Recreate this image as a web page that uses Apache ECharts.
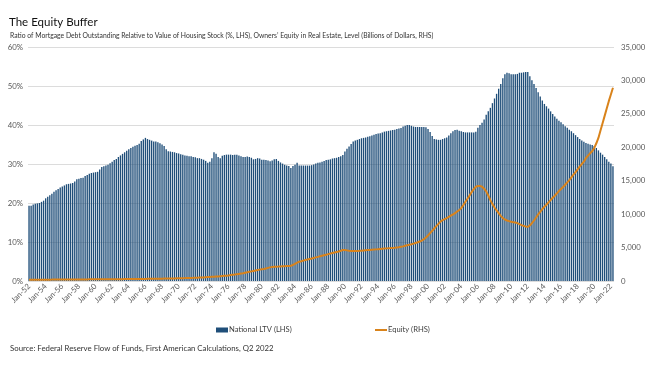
<!DOCTYPE html>
<html>
<head>
<meta charset="utf-8">
<script src="https://cdn.jsdelivr.net/npm/echarts@6/dist/echarts.min.js"></script>
<style>
html,body{margin:0;padding:0;background:#fff;}
#chart{width:660px;height:366px;}
</style>
</head>
<body>
<div id="chart"></div>
<script>
// Quarterly data, 1952 Q1 .. 2022 Q2
var startYear = 1952;
var quarterMonths = ['Jan', 'Apr', 'Jul', 'Oct'];

// National LTV (%), one row per year (Q1..Q4)
var ltv = [
  19.3, 19.3, 19.6, 19.8,  // 1952
  19.9, 20.0, 20.3, 20.6,  // 1953
  21.2, 21.6, 22.0, 22.4,  // 1954
  22.9, 23.3, 23.6, 24.0,  // 1955
  24.2, 24.5, 24.8, 24.9,  // 1956
  25.0, 25.1, 25.5, 26.1,  // 1957
  26.2, 26.4, 26.5, 26.9,  // 1958
  27.2, 27.5, 27.7, 27.8,  // 1959
  27.9, 28.0, 28.6, 29.2,  // 1960
  29.4, 29.6, 29.8, 30.2,  // 1961
  30.6, 31.0, 31.3, 31.8,  // 1962
  32.2, 32.6, 33.0, 33.4,  // 1963
  33.8, 34.1, 34.4, 34.7,  // 1964
  34.9, 35.2, 35.9, 36.3,  // 1965
  36.7, 36.4, 36.2, 36.0,  // 1966
  35.8, 35.8, 35.6, 35.3,  // 1967
  35.0, 34.6, 33.8, 33.3,  // 1968
  33.2, 33.1, 33.0, 32.8,  // 1969
  32.7, 32.5, 32.4, 32.2,  // 1970
  32.1, 32.0, 32.0, 31.8,  // 1971
  31.7, 31.5, 31.5, 31.3,  // 1972
  31.1, 30.8, 30.3, 30.6,  // 1973
  31.5, 33.0, 32.6, 31.8,  // 1974
  31.5, 32.1, 32.3, 32.4,  // 1975
  32.4, 32.4, 32.3, 32.4,  // 1976
  32.4, 32.2, 32.0, 31.8,  // 1977
  31.8, 31.9, 31.8, 31.6,  // 1978
  31.2, 31.3, 31.5, 31.4,  // 1979
  31.1, 31.1, 31.0, 30.9,  // 1980
  30.7, 30.9, 31.2, 31.3,  // 1981
  30.8, 30.4, 30.1, 29.8,  // 1982
  29.6, 29.5, 29.0, 29.5,  // 1983
  29.8, 30.3, 29.6, 29.6,  // 1984
  29.6, 29.6, 29.6, 29.6,  // 1985
  29.7, 29.9, 30.1, 30.3,  // 1986
  30.4, 30.6, 30.8, 31.0,  // 1987
  31.1, 31.2, 31.4, 31.5,  // 1988
  31.6, 31.8, 32.0, 32.3,  // 1989
  33.2, 33.9, 34.5, 35.1,  // 1990
  35.8, 36.0, 36.2, 36.4,  // 1991
  36.6, 36.7, 36.8, 37.0,  // 1992
  37.1, 37.3, 37.5, 37.7,  // 1993
  37.8, 37.9, 38.1, 38.3,  // 1994
  38.4, 38.5, 38.6, 38.7,  // 1995
  38.8, 39.0, 39.1, 39.2,  // 1996
  39.6, 39.8, 40.0, 40.0,  // 1997
  39.8, 39.6, 39.5, 39.5,  // 1998
  39.5, 39.5, 39.5, 39.4,  // 1999
  39.0, 38.2, 37.2, 36.4,  // 2000
  36.3, 36.2, 36.2, 36.4,  // 2001
  36.6, 36.8, 37.3, 37.9,  // 2002
  38.4, 38.7, 38.8, 38.5,  // 2003
  38.4, 38.2, 38.1, 38.1,  // 2004
  38.1, 38.1, 38.1, 38.3,  // 2005
  39.3, 40.0, 40.6, 41.4,  // 2006
  42.6, 43.5, 44.4, 45.6,  // 2007
  46.8, 48.0, 49.3, 50.5,  // 2008
  52.0, 53.0, 53.4, 53.3,  // 2009
  53.0, 53.0, 53.0, 53.1,  // 2010
  53.4, 53.4, 53.5, 53.6,  // 2011
  53.6, 52.5, 51.5, 50.5,  // 2012
  49.5, 48.4, 47.3, 46.3,  // 2013
  45.4, 44.8, 44.2, 43.5,  // 2014
  42.8, 42.2, 41.6, 41.1,  // 2015
  40.7, 40.2, 39.7, 39.3,  // 2016
  38.8, 38.4, 37.9, 37.4,  // 2017
  36.9, 36.4, 36.0, 35.7,  // 2018
  35.4, 35.2, 35.0, 34.9,  // 2019
  34.6, 34.1, 33.5, 32.9,  // 2020
  32.4, 31.8, 31.2, 30.6,  // 2021
  30.1, 29.4               // 2022
];

// Owners' equity in real estate (billions of dollars)
var equity = [
  180, 182, 185, 188,        // 1952
  190, 192, 195, 197,        // 1953
  200, 202, 205, 207,        // 1954
  210, 212, 214, 216,        // 1955
  218, 220, 222, 224,        // 1956
  226, 228, 230, 232,        // 1957
  234, 236, 238, 240,        // 1958
  242, 244, 246, 248,        // 1959
  250, 252, 254, 256,        // 1960
  258, 260, 262, 264,        // 1961
  266, 268, 270, 272,        // 1962
  275, 278, 281, 284,        // 1963
  287, 290, 293, 296,        // 1964
  300, 304, 308, 312,        // 1965
  316, 320, 324, 328,        // 1966
  333, 338, 343, 348,        // 1967
  354, 360, 366, 372,        // 1968
  378, 385, 392, 400,        // 1969
  408, 416, 424, 432,        // 1970
  442, 452, 462, 472,        // 1971
  484, 496, 508, 520,        // 1972
  540, 560, 580, 600,        // 1973
  620, 640, 660, 680,        // 1974
  710, 740, 770, 800,        // 1975
  840, 880, 920, 960,        // 1976
  1010, 1060, 1110, 1160,    // 1977
  1230, 1300, 1370, 1440,    // 1978
  1510, 1580, 1650, 1700,    // 1979
  1750, 1800, 1880, 1960,    // 1980
  2040, 2110, 2140, 2150,    // 1981
  2160, 2180, 2200, 2220,    // 1982
  2240, 2260, 2290, 2400,    // 1983
  2560, 2750, 2890, 2960,    // 1984
  3050, 3140, 3230, 3300,    // 1985
  3370, 3450, 3530, 3610,    // 1986
  3690, 3780, 3860, 3940,    // 1987
  4020, 4100, 4180, 4260,    // 1988
  4340, 4420, 4520, 4640,    // 1989
  4640, 4580, 4520, 4490,    // 1990
  4480, 4490, 4490, 4510,    // 1991
  4540, 4570, 4600, 4620,    // 1992
  4640, 4670, 4700, 4730,    // 1993
  4760, 4790, 4820, 4850,    // 1994
  4880, 4900, 4920, 4950,    // 1995
  4980, 5020, 5060, 5120,    // 1996
  5180, 5260, 5340, 5420,    // 1997
  5500, 5590, 5690, 5790,    // 1998
  5900, 6050, 6250, 6500,    // 1999
  6800, 7150, 7500, 7850,    // 2000
  8200, 8550, 8880, 9100,    // 2001
  9250, 9400, 9600, 9800,    // 2002
  9950, 10150, 10400, 10600, // 2003
  10900, 11350, 11850, 12300,// 2004
  12800, 13300, 13750, 14100,// 2005
  14200, 14220, 14100, 13800,// 2006
  13400, 12800, 12100, 11500,// 2007
  11000, 10550, 10150, 9750, // 2008
  9400, 9200, 9050, 8950,    // 2009
  8850, 8800, 8750, 8650,    // 2010
  8500, 8350, 8250, 8150,    // 2011
  8100, 8300, 8650, 9050,    // 2012
  9500, 9950, 10350, 10750,  // 2013
  11100, 11400, 11750, 12100,// 2014
  12450, 12750, 13100, 13450,// 2015
  13750, 14050, 14400, 14750,// 2016
  15100, 15500, 15900, 16300,// 2017
  16700, 17100, 17500, 17850,// 2018
  18400, 18750, 19100, 19400,// 2019
  19900, 20600, 21400, 22500,// 2020
  23600, 24700, 25800, 26900,// 2021
  27900, 28900               // 2022
];

// Left axis ticks (%), right axis ticks (billions)
var leftTicks = [0, 10, 20, 30, 40, 50, 60];
var rightTicks = [0, 5000, 10000, 15000, 20000, 25000, 30000, 35000];

var categories = [];
for (var i = 0; i < ltv.length; i++) {
  var yr = startYear + Math.floor(i / 4);
  categories.push(quarterMonths[i % 4] + '-' + String(yr % 100).padStart(2, '0'));
}

var FONT = 'Lato, "Open Sans", sans-serif';
var chart = echarts.init(document.getElementById('chart'), null, {renderer: 'canvas'});
chart.setOption({
  animation: false,
  backgroundColor: '#ffffff',
  textStyle: {fontFamily: FONT},
  title: [
    {text: 'The Equity Buffer', left: 9, top: 16, padding: 0,
     textStyle: {fontSize: 11.5, fontWeight: 'normal', color: '#111111', fontFamily: FONT}},
    {text: 'Ratio of Mortgage Debt Outstanding Relative to Value of Housing Stock (%, LHS), Owners\u2019 Equity in Real Estate, Level (Billions of Dollars, RHS)',
     left: 10, top: 32, padding: 0,
     textStyle: {fontSize: 6.8, fontWeight: 'normal', color: '#333333', fontFamily: FONT}},
    {text: 'Source: Federal Reserve Flow of Funds, First American Calculations, Q2 2022',
     left: 10, top: 344, padding: 0,
     textStyle: {fontSize: 7.8, fontWeight: 'normal', color: '#333333', fontFamily: FONT}}
  ],
  legend: [
    {data: [{name: 'National LTV (LHS)', icon: 'rect'}], left: 216, top: 326, padding: 0,
     itemWidth: 12, itemHeight: 5, itemGap: 0,
     textStyle: {fontSize: 7.6, color: '#404040', fontFamily: FONT, padding: [0, 0, 0, -4]}},
    {data: [{name: 'Equity (RHS)', icon: 'rect'}], left: 375, top: 326, padding: 0,
     itemWidth: 12, itemHeight: 2, itemGap: 0,
     textStyle: {fontSize: 7.6, color: '#404040', fontFamily: FONT, padding: [0, 0, 0, -4]}}
  ],
  grid: {left: 28, right: 46, top: 47, bottom: 85, containLabel: false},
  xAxis: {
    type: 'category',
    data: categories,
    boundaryGap: true,
    axisLine: {show: false},
    axisTick: {show: false},
    axisLabel: {
      interval: 7, rotate: 45, fontSize: 7.8, color: '#595959', margin: 4, fontFamily: FONT
    }
  },
  yAxis: [
    {
      type: 'value', min: leftTicks[0], max: leftTicks[leftTicks.length - 1], interval: 10,
      axisLine: {show: false}, axisTick: {show: false},
      splitLine: {lineStyle: {color: '#dcdcdc', width: 1}},
      axisLabel: {formatter: '{value}%', fontSize: 7.8, color: '#595959', margin: 5, fontFamily: FONT}
    },
    {
      type: 'value', min: rightTicks[0], max: rightTicks[rightTicks.length - 1], interval: 5000,
      axisLine: {show: false}, axisTick: {show: false}, splitLine: {show: false},
      axisLabel: {
        formatter: function (v) { return v.toLocaleString('en-US'); },
        fontSize: 7.8, color: '#595959', margin: 7, fontFamily: FONT
      }
    }
  ],
  series: [
    {
      name: 'National LTV (LHS)', type: 'bar', yAxisIndex: 0, data: ltv,
      barCategoryGap: '35%',
      itemStyle: {color: '#1f4e79'}
    },
    {
      name: 'Equity (RHS)', type: 'line', yAxisIndex: 1, data: equity,
      showSymbol: false, symbol: 'none', smooth: false, z: 5,
      lineStyle: {color: '#d9831b', width: 2},
      itemStyle: {color: '#d9831b'}
    }
  ]
});
</script>
</body>
</html>
